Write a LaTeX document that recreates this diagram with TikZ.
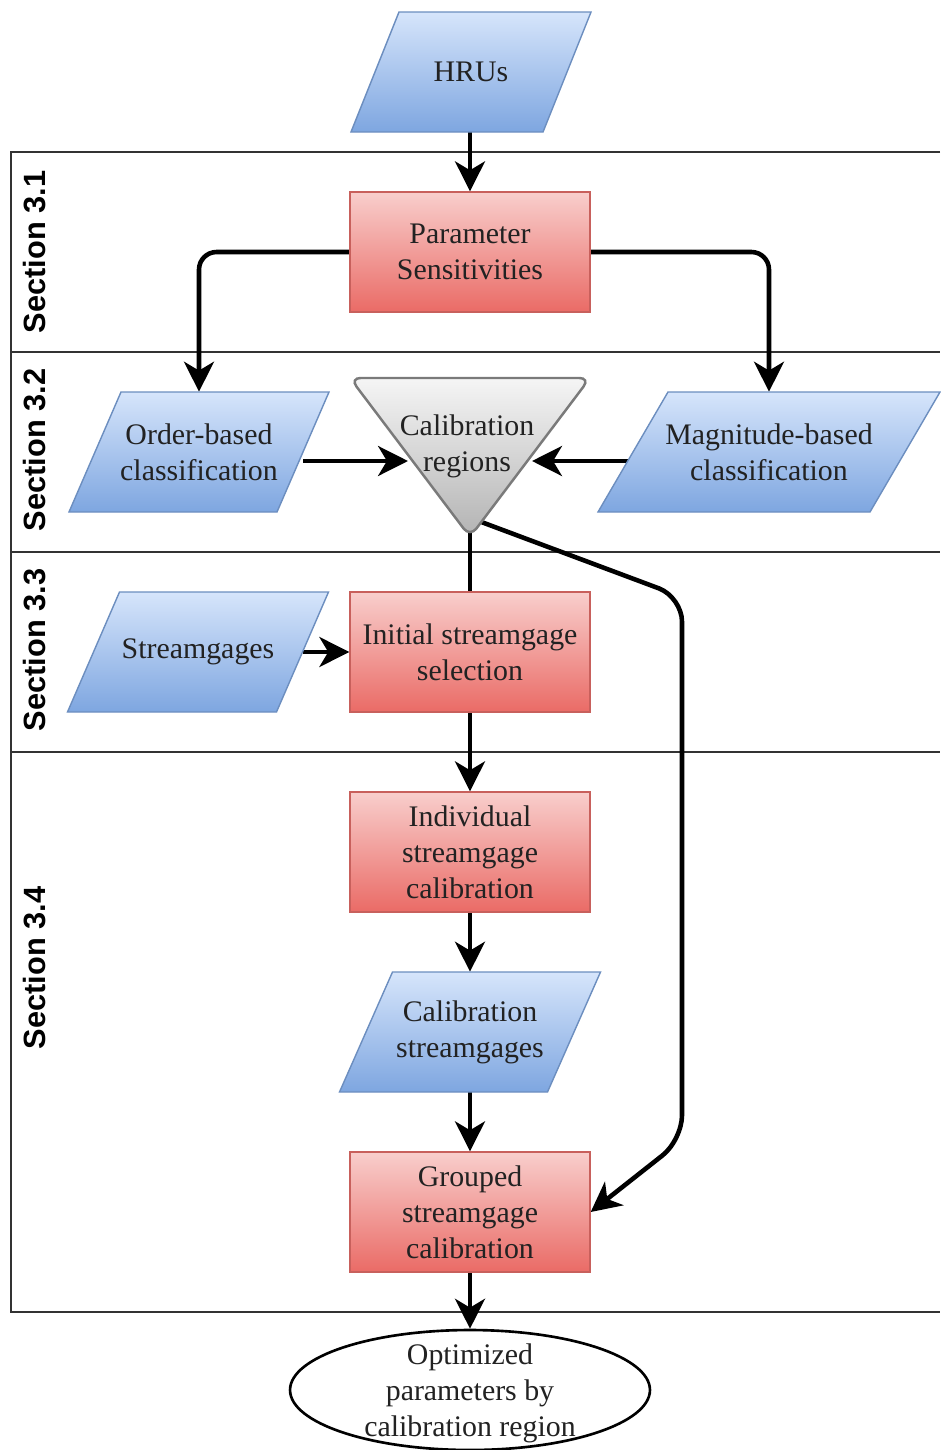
\documentclass[tikz,border=0pt]{standalone}
\usepackage{fontspec}
\setmainfont{Liberation Serif}
\newfontfamily\secfont{Liberation Sans}
\usetikzlibrary{arrows.meta,shapes.geometric,backgrounds}
\definecolor{blueT}{HTML}{D6E5FB}
\definecolor{blueB}{HTML}{7EA6E0}
\definecolor{blueD}{HTML}{6C8EBF}
\definecolor{redT}{HTML}{F8CECC}
\definecolor{redB}{HTML}{EA6B66}
\definecolor{redD}{HTML}{C8605C}
\definecolor{grayT}{HTML}{F5F5F5}
\definecolor{grayB}{HTML}{B3B3B3}
\definecolor{grayD}{HTML}{7A7A7A}
\definecolor{txtc}{HTML}{222222}
\definecolor{lanec}{HTML}{333333}
\newcommand\paragram[6]{%
  \shade[paraS] ({#2-#4/2+#5/2},{#3-60}) -- ({#2+#4/2+#5/2},{#3-60}) -- ({#2+#4/2-#5/2},{#3+60}) -- ({#2-#4/2-#5/2},{#3+60}) -- cycle;
  \node[txt, minimum width=#4*0.02cm, minimum height=2.4cm] (#1) at (#2,#3) {#6};
}
\begin{document}
\begin{tikzpicture}[x=0.02cm,y=-0.02cm,
  txt/.style={font=\fontsize{17}{20.5}\selectfont, align=center, inner sep=0pt, text=txtc},
  paraS/.style={top color=blueT, bottom color=blueB, draw=blueD, line width=0.8pt},
  procbox/.style={txt, rectangle, minimum width=4.8cm, minimum height=2.4cm, top color=redT, bottom color=redB, draw=redD, line width=0.8pt},
  sec/.style={font=\secfont\bfseries\fontsize{17.5}{20}\selectfont, inner sep=0pt, rotate=90},
  lane/.style={draw=lanec, line width=1.1pt},
  arr/.style={line width=2.6pt, -{Stealth[length=17pt,width=17pt,inset=5pt]}},
  plain/.style={line width=2.6pt}]
\useasboundingbox (0,0) rectangle (940,1450);

% parallelograms (data)
\paragram{hru}{471}{72}{192}{48}{HRUs}
\paragram{ob}{199}{452}{208}{52}{Order-based\\classification}
\paragram{mb}{769}{452}{272}{70}{Magnitude-based\\classification}
\paragram{sg}{198}{652}{209}{52}{Streamgages}
\paragram{cs}{470}{1032}{208}{53}{Calibration\\streamgages}

% process boxes
\node[procbox] (ps) at (470,252) {Parameter\\Sensitivities};
\node[procbox] (is) at (470,652) {Initial streamgage\\selection};
\node[procbox] (ic) at (470,852) {Individual\\streamgage\\calibration};
\node[procbox] (gc) at (470,1212) {Grouped\\streamgage\\calibration};

% calibration regions (inverted triangle)
\shade[top color=grayT, bottom color=grayB, draw=grayD, line width=1.4pt, rounded corners=6pt]
  (350,378) -- (590,378) -- (470,537) -- cycle;
\node[txt] (cr) at (467,446) {Calibration\\regions};
\coordinate (tri-w) at (408,461);
\coordinate (tri-e) at (532,461);
\coordinate (tri-s) at (470,532);
\coordinate (tri-se) at (476,520);

% terminal
\node[ellipse, draw=black, line width=1.5pt, fill=white, minimum width=7.2cm, minimum height=2.4cm, inner sep=0pt] (opt) at (470,1390) {};
\node[txt] (optt) at (470,1393) {Optimized\\parameters by\\calibration region};

% section labels
\node[sec] (s31) at (35,252) {Section 3.1};
\node[sec] (s32) at (35,450) {Section 3.2};
\node[sec] (s33) at (35,650) {Section 3.3};
\node[sec] (s34) at (35,968) {Section 3.4};

\begin{pgfonlayer}{background}
  % swimlanes
  \draw[lane] (940,152) -- (11,152) -- (11,1312) -- (940,1312);
  \draw[lane] (11,352) -- (940,352);
  \draw[lane] (11,552) -- (940,552);
  \draw[lane] (11,752) -- (940,752);
  % connectors
  \draw[arr] (ps.north |- hru.south) -- (ps.north);
  \draw[arr, rounded corners=10pt] (ps.west) -| (ob.north);
  \draw[arr, rounded corners=10pt] (ps.east) -| (mb.north);
  \draw[arr] (ob.east |- tri-w) -- (tri-w);
  \draw[arr] (mb.west |- tri-e) -- (tri-e);
  \draw[plain] (tri-s) -- (is.north);
  \draw[arr, rounded corners=14pt] (tri-se) -- (682,597) -- (682,1140) -- (gc.east);
  \draw[arr] (sg.east) -- (is.west);
  \draw[arr] (is.south) -- (ic.north);
  \draw[arr] (ic.south) -- (cs.north);
  \draw[arr] (cs.south) -- (gc.north);
  \draw[arr] (gc.south) -- (opt.north);
\end{pgfonlayer}
\end{tikzpicture}
\end{document}
